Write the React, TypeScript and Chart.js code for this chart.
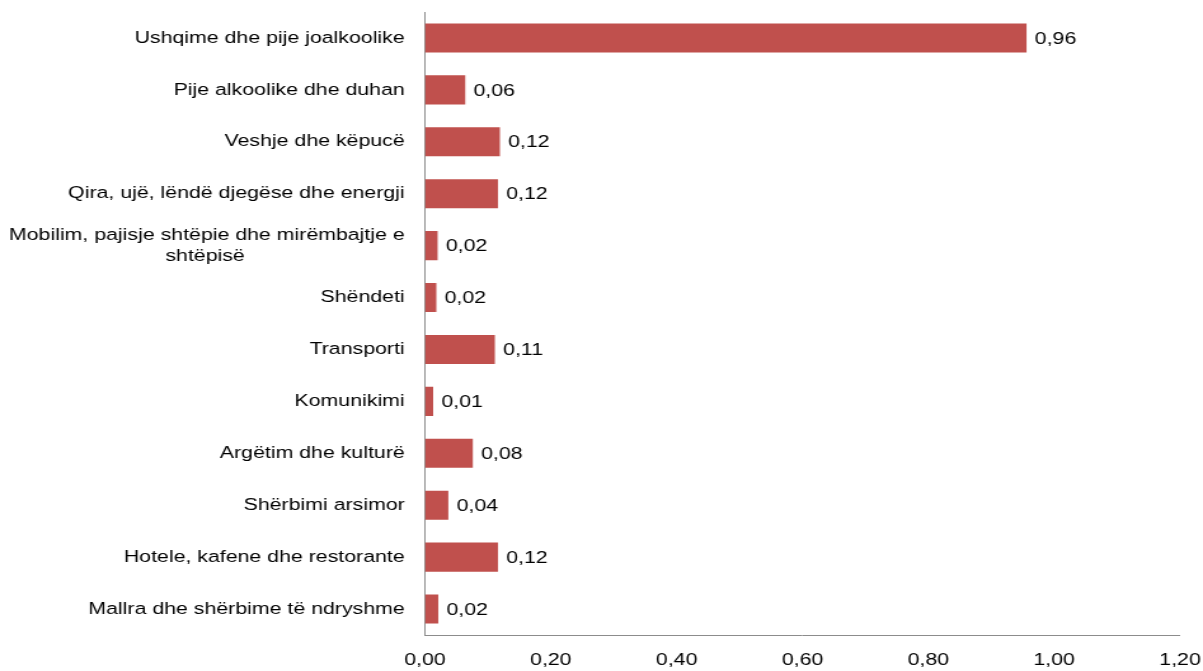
import React, { useEffect, useRef } from "react";
import { Chart, registerables } from "chart.js";

Chart.register(...registerables);

const categories: (string | string[])[] = [
  "Ushqime dhe pije joalkoolike",
  "Pije alkoolike dhe duhan",
  "Veshje dhe këpucë",
  "Qira, ujë, lëndë djegëse dhe energji",
  ["Mobilim, pajisje shtëpie dhe mirëmbajtje e", "shtëpisë"],
  "Shëndeti",
  "Transporti",
  "Komunikimi",
  "Argëtim dhe kulturë",
  "Shërbimi arsimor",
  "Hotele, kafene dhe restorante",
  "Mallra dhe shërbime të ndryshme",
];

const values: number[] = [0.956, 0.064, 0.119, 0.116, 0.02, 0.018, 0.111, 0.013, 0.076, 0.037, 0.116, 0.021];

const xMin = 0;
const xMax = 1.2;
const xStep = 0.2;

const STRETCH = 1.2703;
const PAGE_W = 1203;
const PAGE_H = 671;
const CANVAS_W = Math.round(PAGE_W / STRETCH);
const FONT_SIZE = 16.8;
const FONT_FAMILY = "'Liberation Sans', Arial, sans-serif";
const BAR_COLOR = "#C0504D";
const AXIS_COLOR = "#8c8c8c";

const fmt = (v: number) => v.toFixed(2).replace(".", ",");

const measureCtx = (() => {
  const c = document.createElement("canvas");
  const ctx = c.getContext("2d")!;
  ctx.font = `${FONT_SIZE}px ${FONT_FAMILY}`;
  return ctx;
})();

function centerLines(lines: string[]): string[] {
  const widths = lines.map((l) => measureCtx.measureText(l).width);
  const maxW = Math.max(...widths);
  const nb = measureCtx.measureText("\u00a0").width || 4.5;
  return lines.map((l, i) => l + "\u00a0".repeat(Math.round((maxW - widths[i]) / 2 / nb)));
}

const valueLabels = {
  id: "valueLabels",
  afterDatasetsDraw(chart: any) {
    const ctx = chart.ctx;
    const meta = chart.getDatasetMeta(0);
    ctx.save();
    ctx.font = `${FONT_SIZE}px ${FONT_FAMILY}`;
    ctx.fillStyle = "#000";
    ctx.textAlign = "left";
    ctx.textBaseline = "middle";
    meta.data.forEach((el: any, i: number) => {
      ctx.fillText(fmt(values[i]), el.x + 6.5, el.y + 1);
    });
    ctx.restore();
  },
};

export default function App() {
  const ref = useRef<HTMLCanvasElement>(null);
  useEffect(() => {
    if (!ref.current) return;
    const chart = new Chart(ref.current, {
      type: "bar",
      data: {
        labels: categories as any,
        datasets: [
          {
            data: values,
            backgroundColor: BAR_COLOR,
            borderWidth: 0,
            barPercentage: 0.56,
            categoryPercentage: 1,
          },
        ],
      },
      options: {
        indexAxis: "y",
        animation: false,
        responsive: false,
        devicePixelRatio: 1,
        layout: { padding: { top: 12, right: CANVAS_W - 1180 / STRETCH, left: 0, bottom: 0 } },
        plugins: { legend: { display: false }, tooltip: { enabled: false } },
        font: { family: FONT_FAMILY, size: FONT_SIZE },
        scales: {
          x: {
            type: "linear",
            min: xMin,
            max: xMax,
            grid: { display: false, drawTicks: false },
            border: { display: true, color: AXIS_COLOR, width: 1 },
            ticks: {
              stepSize: xStep,
              padding: 15,
              color: "#000",
              font: { family: FONT_FAMILY, size: FONT_SIZE },
              callback: (v: any) => fmt(Number(v)),
            },
            afterFit: (s: any) => {
              s.height = 36;
              s.paddingLeft = 0;
              s.paddingRight = 0;
            },
          },
          y: {
            grid: { display: false, drawTicks: false },
            border: { display: true, color: AXIS_COLOR, width: 1 },
            ticks: {
              padding: 16,
              color: "#000",
              font: { family: FONT_FAMILY, size: FONT_SIZE, lineHeight: 1.28 },
              autoSkip: false,
              callback: function (this: any, value: any) {
                const lbl = this.getLabelForValue(value);
                return Array.isArray(lbl) ? centerLines(lbl) : lbl;
              },
            },
            afterFit: (s: any) => {
              s.width = 425 / STRETCH;
              s.paddingTop = 0;
              s.paddingBottom = 0;
            },
          },
        },
      },
      plugins: [valueLabels],
    });
    return () => chart.destroy();
  }, []);
  return (
    <div style={{ position: "absolute", left: 0, top: 0, width: PAGE_W, height: PAGE_H, background: "#fff" }}>
      <canvas
        ref={ref}
        width={CANVAS_W}
        height={PAGE_H}
        style={{ width: PAGE_W + "px", height: PAGE_H + "px", display: "block" }}
      />
    </div>
  );
}
